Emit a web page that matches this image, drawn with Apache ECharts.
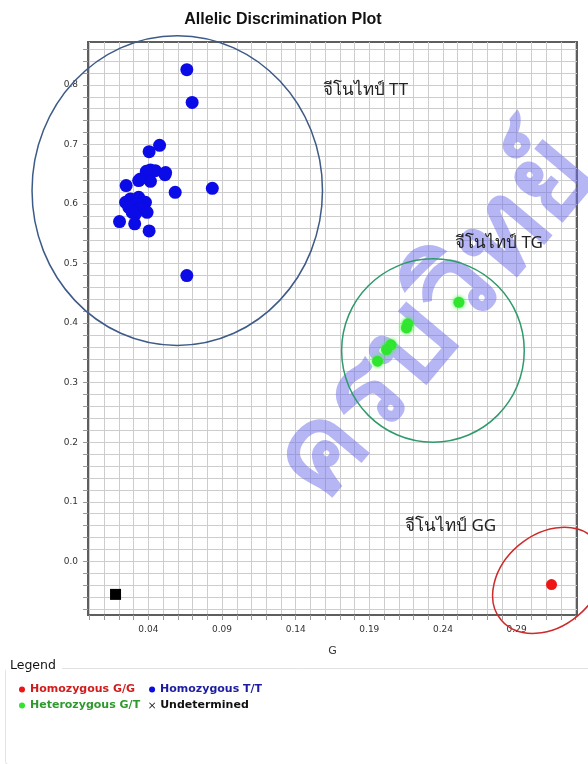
<!DOCTYPE html>
<html>
<head>
<meta charset="utf-8">
<script src="https://cdn.jsdelivr.net/npm/echarts@6/dist/echarts.min.js"></script>
<style>
  html, body { margin: 0; padding: 0; background: #fff; }
  #main { width: 588px; height: 764px; }
</style>
</head>
<body>
<div id="main"></div>
<script>
// 刻度
const xTickValues = [0.00, 0.01, 0.02, 0.03, 0.04, 0.05, 0.06, 0.07, 0.08, 0.09, 0.10, 0.11,
  0.12, 0.13, 0.14, 0.15, 0.16, 0.17, 0.18, 0.19, 0.20, 0.21, 0.22, 0.23, 0.24, 0.25, 0.26,
  0.27, 0.28, 0.29, 0.30, 0.31, 0.32, 0.33];
const xLabelValues = [0.04, 0.09, 0.14, 0.19, 0.24, 0.29];
const yTickValues = [-0.08, -0.06, -0.04, -0.02, 0.00, 0.02, 0.04, 0.06, 0.08, 0.10, 0.12,
  0.14, 0.16, 0.18, 0.20, 0.22, 0.24, 0.26, 0.28, 0.30, 0.32, 0.34, 0.36, 0.38, 0.40, 0.42,
  0.44, 0.46, 0.48, 0.50, 0.52, 0.54, 0.56, 0.58, 0.60, 0.62, 0.64, 0.66, 0.68, 0.70, 0.72,
  0.74, 0.76, 0.78, 0.80, 0.82, 0.84, 0.86];
const yLabelValues = [0.0, 0.1, 0.2, 0.3, 0.4, 0.5, 0.6, 0.7, 0.8];

// 数据点 [G, T]
const homozygousGG = [[0.3137, -0.0390]];
const homozygousTT = [
  [0.0661, 0.8255], [0.0697, 0.7706], [0.0476, 0.6985], [0.0405, 0.6879], [0.0414, 0.6572],
  [0.0447, 0.6560], [0.0386, 0.6549], [0.0517, 0.6527], [0.0513, 0.6493], [0.0346, 0.6421],
  [0.0414, 0.6381], [0.0334, 0.6393], [0.0249, 0.6309], [0.0834, 0.6263], [0.0582, 0.6196],
  [0.0278, 0.6086], [0.0334, 0.6112], [0.0380, 0.6029], [0.0245, 0.6029], [0.0324, 0.6002],
  [0.0267, 0.5945], [0.0357, 0.5918], [0.0290, 0.5861], [0.0391, 0.5861], [0.0312, 0.5834],
  [0.0204, 0.5705], [0.0307, 0.5668], [0.0405, 0.5549], [0.0661, 0.4799]
];
const heterozygousGT = [
  [0.2508, 0.4350], [0.2161, 0.3988], [0.2152, 0.3920], [0.2047, 0.3636],
  [0.2017, 0.3557], [0.1956, 0.3361]
];
const undetermined = [];
const ntc = [[0.0177, -0.0554]];

// 椭圆圈 [cx, cy, rx, ry, 角度]
const clusterRings = [
  [0.0596, 0.6225, 0.0986, 0.2600, 0],
  [0.2332, 0.3540, 0.0620, 0.1539, 0],
  [0.3116, -0.0319, 0.0419, 0.0772, 40]
];
const ringColors = ['#3d5a88', '#2f9a6a', '#cc2b2b'];

// 基因型标注
const genotypeNames = ['จีโนไทป์ TT', 'จีโนไทป์ TG', 'จีโนไทป์ GG'];
const genotypeX = [0.1583, 0.2482, 0.2142];
const genotypeY = [0.7914, 0.5350, 0.0599];

const chart = echarts.init(document.getElementById('main'));

const option = {
  backgroundColor: '#ffffff',
  animation: false,
  title: {
    text: 'Allelic Discrimination Plot',
    left: 278,
    top: 7,
    textAlign: 'center',
    textStyle: { fontFamily: 'Liberation Sans', fontSize: 16, fontWeight: 'bold', color: '#111' }
  },
  grid: {
    left: 88, right: 11, top: 42, bottom: 149,
    show: true, borderColor: '#5e5e5e', borderWidth: 2, backgroundColor: '#fff'
  },
  legend: [{
    left: 14, top: 679, itemGap: 14, itemWidth: 6, itemHeight: 6, selectedMode: false,
    textStyle: { fontFamily: 'DejaVu Sans', fontSize: 11, fontWeight: 'bold' },
    data: [
      { name: 'Homozygous G/G', icon: 'circle', textStyle: { color: '#d01c1c' } },
      { name: 'Homozygous T/T', icon: 'circle', textStyle: { color: '#1c1ca0' } }
    ]
  }, {
    left: 14, top: 695, itemGap: 9, itemWidth: 6, itemHeight: 6, selectedMode: false,
    textStyle: { fontFamily: 'DejaVu Sans', fontSize: 11, fontWeight: 'bold' },
    data: [
      { name: 'Heterozygous G/T', icon: 'circle', textStyle: { color: '#2e9a2e' } },
      { name: 'Undetermined', itemWidth: 10, itemHeight: 10,
        icon: 'path://M0,1L1,0L5,4L9,0L10,1L6,5L10,9L9,10L5,6L1,10L0,9L4,5Z',
        textStyle: { color: '#111' } }
    ]
  }],
  xAxis: {
    type: 'value', min: -0.001, max: 0.331,
    name: 'G', nameLocation: 'middle', nameGap: 31,
    nameTextStyle: { fontFamily: 'DejaVu Sans', fontSize: 11, color: '#333' },
    axisLine: { onZero: false, lineStyle: { color: '#5e5e5e', width: 2 } },
    axisTick: { show: true, length: 5, customValues: xTickValues, lineStyle: { color: '#999' } },
    axisLabel: {
      customValues: xLabelValues, margin: 10,
      fontFamily: 'DejaVu Sans', fontSize: 9, color: '#333',
      formatter: v => v.toFixed(2)
    },
    splitLine: { show: true, lineStyle: { color: '#cdcdcd', width: 1 } }
  },
  yAxis: {
    type: 'value', min: -0.09, max: 0.872,
    axisLine: { show: true, onZero: false, lineStyle: { color: '#5e5e5e', width: 2 } },
    axisTick: { show: true, length: 5, customValues: yTickValues, lineStyle: { color: '#999' } },
    axisLabel: {
      customValues: yLabelValues, margin: 10,
      fontFamily: 'DejaVu Sans', fontSize: 9, color: '#333',
      formatter: v => v.toFixed(1)
    },
    splitLine: { show: true, lineStyle: { color: '#cdcdcd', width: 1 } }
  },
  graphic: [
    {
      type: 'text', x: 297, y: 484, rotation: 50 * Math.PI / 180, silent: true, z: 2,
      style: {
        text: 'ครบวิทย์', fontSize: 118, fontWeight: 'bold', fontFamily: 'Noto Sans, sans-serif',
        fill: 'rgba(110,110,235,0.5)', textVerticalAlign: 'middle', textAlign: 'left'
      }
    },
    {
      type: 'rect', left: 3, top: 666, silent: true,
      shape: { width: 600, height: 96, r: 3 },
      style: { fill: 'none', stroke: '#e2e2e2', lineWidth: 1 }
    },
    {
      type: 'rect', left: 6, top: 660, silent: true,
      shape: { width: 56, height: 14 },
      style: { fill: '#fff' }
    },
    {
      type: 'text', left: 10, top: 659, silent: true,
      style: { text: 'Legend', fontFamily: 'DejaVu Sans', fontSize: 12.5, fill: '#111' }
    }
  ],
  series: [
    {
      name: 'rings', type: 'custom', silent: true, clip: false, z: 3,
      data: clusterRings,
      renderItem: function (params, api) {
        const c = api.coord([api.value(0), api.value(1)]);
        const s = api.size([api.value(2), api.value(3)]);
        return {
          type: 'ellipse',
          x: c[0], y: c[1],
          rotation: api.value(4) * Math.PI / 180,
          shape: { cx: 0, cy: 0, rx: s[0], ry: s[1] },
          style: { fill: 'none', stroke: ringColors[params.dataIndex], lineWidth: 1.5 }
        };
      }
    },
    {
      name: 'labels', type: 'custom', silent: true, clip: false, z: 4,
      data: genotypeNames.map((n, i) => [genotypeX[i], genotypeY[i]]),
      renderItem: function (params, api) {
        const c = api.coord([api.value(0), api.value(1)]);
        return {
          type: 'text', x: c[0], y: c[1],
          style: {
            text: genotypeNames[params.dataIndex], fontSize: 17,
            fontFamily: 'Noto Sans, sans-serif', fill: '#222',
            textAlign: 'left', textVerticalAlign: 'middle'
          }
        };
      }
    },
    {
      name: 'Homozygous G/G', type: 'scatter', data: homozygousGG, z: 5,
      symbolSize: 11, itemStyle: { color: '#ee1515', opacity: 1 }
    },
    {
      name: 'Homozygous T/T', type: 'scatter', data: homozygousTT, z: 5,
      symbolSize: 13, itemStyle: { color: '#0b0be8', opacity: 1 }
    },
    {
      name: 'Heterozygous G/T', type: 'scatter', data: heterozygousGT, z: 5,
      symbolSize: 11,
      itemStyle: { color: '#2fe52f', opacity: 1, shadowBlur: 4, shadowColor: '#3cf03c' }
    },
    {
      name: 'Undetermined', type: 'scatter', data: undetermined, z: 5,
      symbol: 'path://M0,1L1,0L5,4L9,0L10,1L6,5L10,9L9,10L5,6L1,10L0,9L4,5Z',
      symbolSize: 9, itemStyle: { color: '#111', opacity: 1 }
    },
    {
      name: 'NTC', type: 'scatter', data: ntc, z: 5,
      symbol: 'rect', symbolSize: 11, itemStyle: { color: '#000', opacity: 1 }
    }
  ]
};

chart.setOption(option);
</script>
</body>
</html>
